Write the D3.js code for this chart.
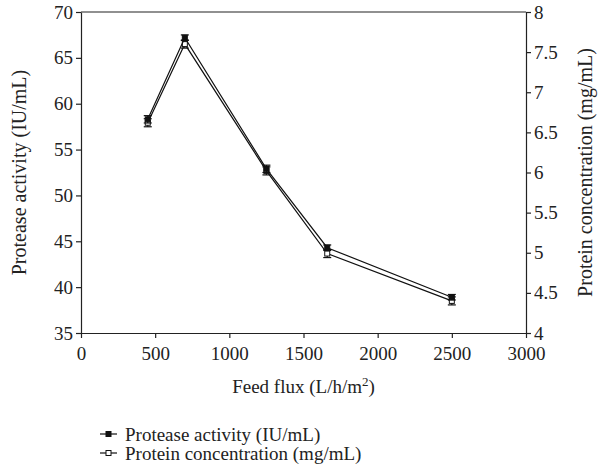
<!DOCTYPE html>
<html>
<head>
<meta charset="utf-8">
<script src="https://cdn.jsdelivr.net/npm/d3@7"></script>
<style>
  body { margin: 0; background: #fff; }
  svg text { font-family: "Liberation Serif", "DejaVu Serif", serif; fill: #222; }
</style>
</head>
<body>
<div id="chart"></div>
<script>
// data
let feedFlux = [450, 700, 1250, 1660, 2500];
let proteaseActivity = [58.3, 67.2, 52.9, 44.3, 38.9];
let proteaseErr = [0.4, 0.3, 0.4, 0.3, 0.3];
let proteinConc = [6.62, 7.6, 6.02, 4.99, 4.4];
let proteinErr = [0.05, 0.05, 0.05, 0.05, 0.05];
let xTicks = [0, 500, 1000, 1500, 2000, 2500, 3000];
let leftTicks = [35, 40, 45, 50, 55, 60, 65, 70];
let rightTicks = [4, 4.5, 5, 5.5, 6, 6.5, 7, 7.5, 8];

let width = 603, height = 473;
let margin = {left: 81, right: 77, top: 12, bottom: 140};
let fs = "19px";

let svg = d3.select("#chart").append("svg")
    .attr("width", width)
    .attr("height", height);

let x = d3.scaleLinear().domain([0, 3000]).range([margin.left, width - margin.right]);
let yL = d3.scaleLinear().domain([35, 70]).range([height - margin.bottom, margin.top]);
let yR = d3.scaleLinear().domain([4, 8]).range([height - margin.bottom, margin.top]);

// frame top line
svg.append("line")
    .attr("x1", x(0)).attr("x2", x(3000))
    .attr("y1", yL(70)).attr("y2", yL(70))
    .attr("stroke", "#222").attr("stroke-width", 1.2);

let xAxis = svg.append("g")
    .attr("transform", "translate(0," + yL(35) + ")")
    .call(d3.axisBottom(x).tickValues(xTicks).tickSize(5).tickSizeOuter(0).tickFormat(d3.format("d")));
let lAxis = svg.append("g")
    .attr("transform", "translate(" + x(0) + ",0)")
    .call(d3.axisLeft(yL).tickValues(leftTicks).tickSize(5).tickSizeOuter(0));
let rAxis = svg.append("g")
    .attr("transform", "translate(" + x(3000) + ",0)")
    .call(d3.axisRight(yR).tickValues(rightTicks).tickSize(5).tickSizeOuter(0).tickFormat(d => d3.format("")(d)));

[xAxis, lAxis, rAxis].forEach(a => {
  a.selectAll("path, line").attr("stroke", "#222").attr("stroke-width", 1.2);
  a.selectAll("text").style("font-size", fs).style("font-family", "Liberation Serif, serif").attr("fill", "#222");
});
xAxis.selectAll("text").attr("dy", "1.0em");
lAxis.selectAll("text").attr("x", -8);
rAxis.selectAll("text").attr("x", 8);

// axis titles
svg.append("text")
    .attr("x", (x(0) + x(3000)) / 2).attr("y", 393)
    .attr("text-anchor", "middle").style("font-size", fs)
    .html('Feed flux (L/h/m<tspan dy="-7" font-size="13px">2</tspan><tspan dy="7">)</tspan>');
svg.append("text")
    .attr("transform", "translate(26," + (yL(52.5)) + ") rotate(-90)")
    .attr("text-anchor", "middle").style("font-size", "20px")
    .text("Protease activity (IU/mL)");
svg.append("text")
    .attr("transform", "translate(592," + (yL(52.5)) + ") rotate(-90)")
    .attr("text-anchor", "middle").style("font-size", "20px")
    .text("Protein concentration (mg/mL)");

function drawSeries(vals, errs, y, filled) {
  let pts = feedFlux.map((f, i) => ({x: f, y: vals[i], e: errs[i]}));
  svg.append("path")
      .datum(pts)
      .attr("fill", "none").attr("stroke", "#111").attr("stroke-width", 1.2)
      .attr("d", d3.line().x(d => x(d.x)).y(d => y(d.y)));
  let g = svg.append("g").selectAll("g").data(pts).enter().append("g");
  g.append("line")
      .attr("x1", d => x(d.x)).attr("x2", d => x(d.x))
      .attr("y1", d => y(d.y - d.e)).attr("y2", d => y(d.y + d.e))
      .attr("stroke", "#111").attr("stroke-width", 1.2);
  [-1, 1].forEach(s => {
    g.append("line")
        .attr("x1", d => x(d.x) - 4).attr("x2", d => x(d.x) + 4)
        .attr("y1", d => y(d.y + s * d.e)).attr("y2", d => y(d.y + s * d.e))
        .attr("stroke", "#111").attr("stroke-width", 1.2);
  });
  g.append("rect")
      .attr("x", d => x(d.x) - 2.5).attr("y", d => y(d.y) - 2.5)
      .attr("width", 5).attr("height", 5)
      .attr("fill", filled ? "#111" : "#fff")
      .attr("stroke", "#111").attr("stroke-width", 1);
}

drawSeries(proteinConc, proteinErr, yR, false);
drawSeries(proteaseActivity, proteaseErr, yL, true);

// legend
let legendItems = [
  {label: "Protease activity (IU/mL)", filled: true},
  {label: "Protein concentration (mg/mL)", filled: false}
];
let legend = svg.selectAll(".legend").data(legendItems).enter().append("g")
    .attr("transform", (d, i) => "translate(100," + (434 + i * 19) + ")");
legend.append("line")
    .attr("x1", 0).attr("x2", 17).attr("y1", 0).attr("y2", 0)
    .attr("stroke", "#111").attr("stroke-width", 1.2);
legend.append("rect")
    .attr("x", 6).attr("y", -2.5).attr("width", 5).attr("height", 5)
    .attr("fill", d => d.filled ? "#111" : "#fff")
    .attr("stroke", "#111").attr("stroke-width", 1);
legend.append("text")
    .attr("x", 25).attr("y", 0).attr("dy", "0.35em")
    .style("font-size", fs)
    .text(d => d.label);
</script>
</body>
</html>
